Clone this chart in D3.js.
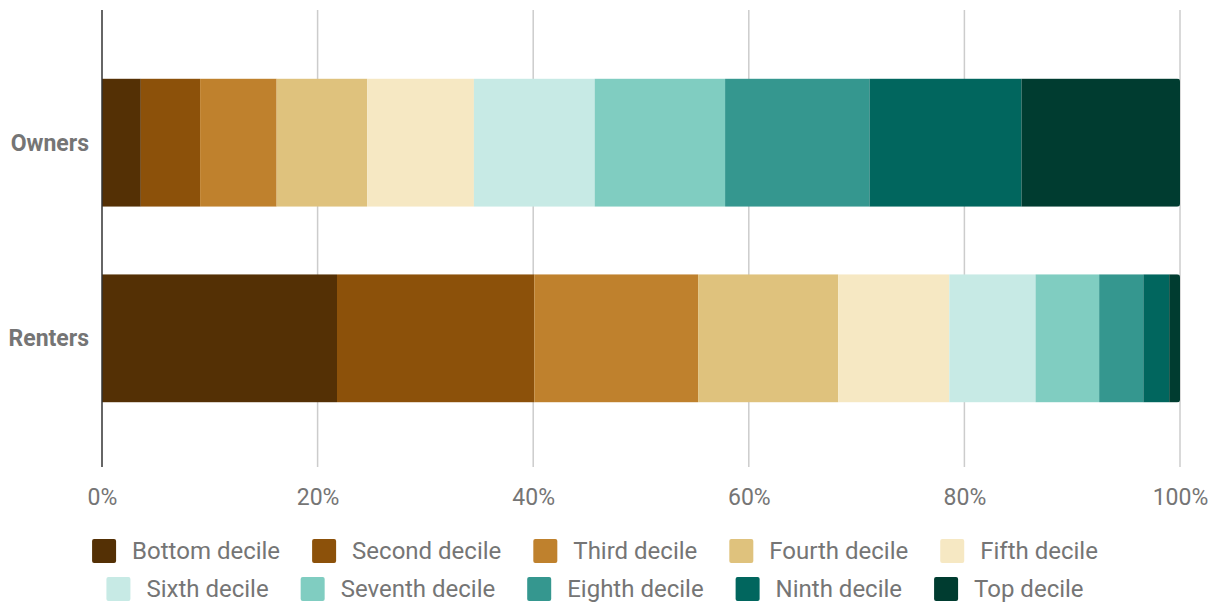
<!DOCTYPE html>
<html>
<head>
  <meta charset="utf-8">
  <script src="https://cdnjs.cloudflare.com/ajax/libs/d3/7.8.5/d3.min.js"></script>
  <style>
    body { margin: 0; background: #fff; font-family: Roboto, "Noto Sans", sans-serif; }
    .tick text { fill: #757575; font-size: 23px; }
    .cat { fill: #757575; font-size: 23px; font-weight: bold; }
    .leg text { fill: #757575; font-size: 24px; }
  </style>
</head>
<body>
  <svg id="chart" width="1217" height="604"></svg>
  <script>
    var groups = ["Owners", "Renters"];
    var deciles = ["Bottom decile", "Second decile", "Third decile", "Fourth decile", "Fifth decile",
                   "Sixth decile", "Seventh decile", "Eighth decile", "Ninth decile", "Top decile"];
    var owners = [3.6, 5.5, 7.1, 8.4, 9.9, 11.2, 12.1, 13.4, 14.1, 14.7];
    var renters = [21.8, 18.3, 15.2, 13.0, 10.3, 8.0, 5.9, 4.1, 2.4, 1.0];
    var colors = ["#543005", "#8c510a", "#bf812d", "#dfc27d", "#f6e8c3",
                  "#c7eae5", "#80cdc1", "#35978f", "#01665e", "#003c30"];
    var ticks = [0, 20, 40, 60, 80, 100];

    var svg = d3.select("#chart");
    var mLeft = 102, mRight = 1180, mTop = 10, mBottom = 467;

    var x = d3.scaleLinear().domain([0, 100]).range([mLeft, mRight]);
    var y = d3.scaleBand().domain(groups).range([mTop + 4, mBottom]).paddingInner(0.345).paddingOuter(0.33);

    // grid
    svg.append("g").selectAll("line")
      .data(ticks.slice(1))
      .enter().append("line")
      .attr("x1", d => x(d)).attr("x2", d => x(d))
      .attr("y1", mTop).attr("y2", mBottom)
      .attr("stroke", "#cccccc").attr("stroke-width", 1.5);

    // bars
    var rows = [owners, renters];
    rows.forEach((vals, r) => {
      var g = groups[r];
      var clipId = "clip" + r;
      svg.append("clipPath").attr("id", clipId)
        .append("rect")
        .attr("x", x(0) - 5).attr("y", y(g))
        .attr("width", x(d3.sum(vals)) - x(0) + 5).attr("height", y.bandwidth())
        .attr("rx", 3);
      var cum = 0;
      var segs = vals.map((v, i) => { var s = { x0: cum, x1: cum + v, i: i }; cum += v; return s; });
      svg.append("g").attr("clip-path", "url(#" + clipId + ")")
        .selectAll("rect").data(segs).enter().append("rect")
        .attr("x", d => x(d.x0)).attr("width", d => x(d.x1) - x(d.x0))
        .attr("y", y(g)).attr("height", y.bandwidth())
        .attr("fill", d => colors[d.i]);
    });

    // zero axis line
    svg.append("line")
      .attr("x1", x(0)).attr("x2", x(0)).attr("y1", mTop).attr("y2", mBottom)
      .attr("stroke", "#333").attr("stroke-width", 1.5);

    // x axis labels
    var xAxis = svg.append("g").attr("transform", "translate(0," + mBottom + ")")
      .call(d3.axisBottom(x).tickValues(ticks).tickFormat(d => d + "%").tickSize(0).tickPadding(22));
    xAxis.select(".domain").remove();
    xAxis.selectAll("text").attr("font-family", "Roboto");

    // category labels
    svg.append("g").selectAll("text").data(groups).enter().append("text")
      .attr("class", "cat")
      .attr("x", 89).attr("y", d => y(d) + y.bandwidth() / 2)
      .attr("dy", "0.35em").attr("text-anchor", "end")
      .text(d => d);

    // legend, two centered rows
    var legRows = [deciles.slice(0, 5), deciles.slice(5)];
    var legY = [551, 589];
    legRows.forEach((items, r) => {
      var g = svg.append("g").attr("class", "leg");
      var xpos = 0;
      items.forEach((name, k) => {
        var idx = r * 5 + k;
        var it = g.append("g").attr("transform", "translate(" + xpos + ",0)");
        it.append("rect").attr("x", 0).attr("y", legY[r] - 12)
          .attr("width", 24).attr("height", 24).attr("rx", 2)
          .attr("fill", colors[idx]);
        var t = it.append("text").attr("x", 40).attr("y", legY[r]).attr("dy", "0.35em").text(name);
        xpos += 40 + t.node().getComputedTextLength() + 32;
      });
      var w = xpos - 32;
      g.attr("transform", "translate(" + (595 - w / 2) + ",0)");
    });
  </script>
</body>
</html>
